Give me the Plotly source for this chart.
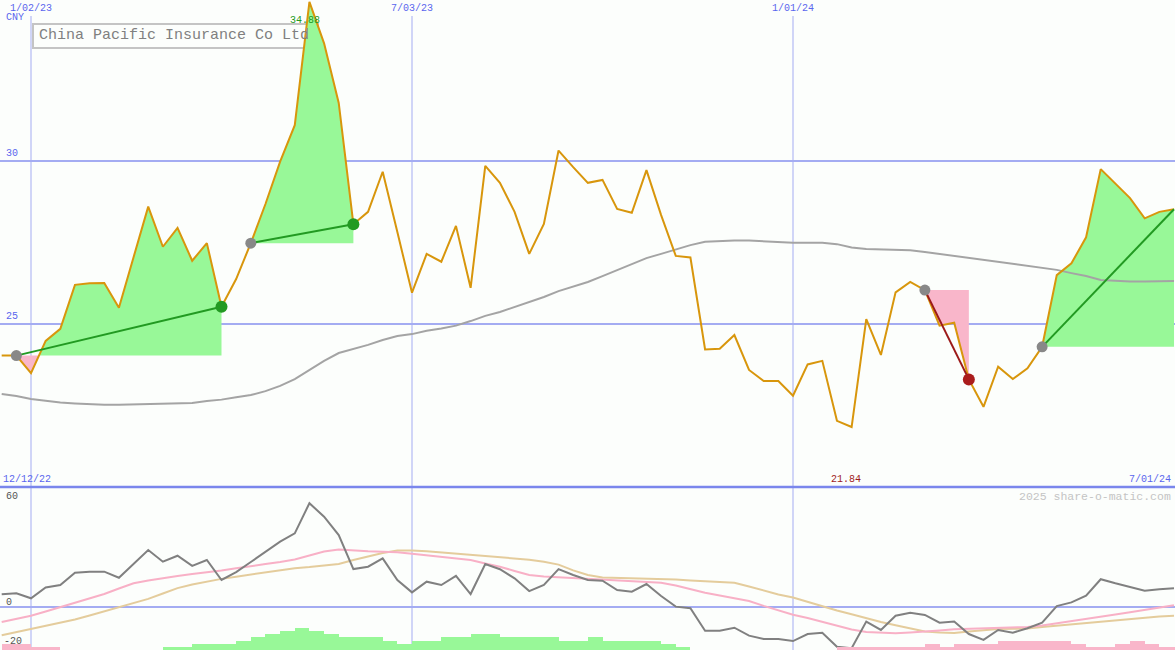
import plotly.graph_objects as go
import pandas as pd

# ---------------- data ----------------
dates = pd.date_range("2022-12-19", periods=81, freq="7D")

price = [24.03, 24.03, 23.49, 24.48, 24.85, 26.20, 26.25, 26.26, 25.50, 27.06,
         28.60, 27.37, 27.95, 26.94, 27.48, 25.53, 26.38, 27.48, 28.68, 29.98,
         31.10, 34.88, 33.61, 31.78, 28.06, 28.44, 29.67, 27.82, 25.96, 27.15,
         26.91, 28.01, 26.11, 29.85, 29.33, 28.44, 27.15, 28.07, 30.32, 29.81,
         29.33, 29.42, 28.53, 28.41, 29.72, 28.34, 27.09, 27.04, 24.22, 24.24,
         24.66, 23.59, 23.25, 23.25, 22.80, 23.76, 23.87, 22.03, 21.84, 25.15,
         24.05, 25.97, 26.29, 26.04, 24.95, 25.04, 23.30, 22.46, 23.69, 23.31,
         23.64, 24.30, 26.50, 26.86, 27.66, 29.75, 29.32, 28.86, 28.24, 28.44,
         28.52]

ma = [22.85, 22.79, 22.70, 22.64, 22.59, 22.56, 22.53, 22.52, 22.52, 22.53,
      22.55, 22.56, 22.58, 22.58, 22.64, 22.68, 22.75, 22.82, 22.94, 23.10,
      23.31, 23.59, 23.87, 24.11, 24.23, 24.36, 24.51, 24.63, 24.69, 24.79,
      24.86, 24.95, 25.09, 25.25, 25.37, 25.52, 25.67, 25.83, 26.01, 26.15,
      26.29, 26.47, 26.66, 26.84, 27.02, 27.15, 27.29, 27.42, 27.52, 27.55,
      27.56, 27.56, 27.53, 27.50, 27.49, 27.49, 27.49, 27.45, 27.35, 27.30,
      27.29, 27.27, 27.26, 27.21, 27.15, 27.09, 27.02, 26.96, 26.90, 26.84,
      26.78, 26.72, 26.66, 26.56, 26.47, 26.35, 26.32, 26.30, 26.30, 26.30,
      26.32]

osc = [6.9, 7.4, 4.7, 10.6, 11.9, 18.5, 19.1, 19.1, 15.8, 23.2,
       30.8, 24.5, 27.7, 22.2, 25.4, 14.6, 18.9, 24.3, 29.7, 35.3,
       39.8, 56.1, 48.8, 38.9, 20.5, 21.8, 26.3, 14.6, 7.9, 13.7,
       11.9, 16.8, 7.0, 23.2, 20.4, 15.5, 8.6, 11.9, 20.5, 17.3,
       14.6, 14.2, 9.2, 8.3, 12.4, 5.9, 0.2, -0.7, -12.8, -12.8,
       -11.2, -15.5, -17.3, -17.3, -18.4, -14.6, -13.9, -21.5, -22.3, -7.9,
       -12.4, -4.7, -3.1, -4.3, -8.5, -7.9, -14.6, -17.8, -12.4, -13.9,
       -11.5, -8.5, 0.5, 2.5, 6.1, 15.0, 12.8, 11.0, 8.8, 9.6,
       10.1]

osc_fast = [-8.1, -6.5, -4.7, -2.4, 0.0, 2.4, 4.9, 7.0, 10.0, 12.8,
            14.3, 15.7, 16.8, 17.8, 18.6, 19.7, 20.9, 22.2, 23.2, 24.3,
            25.7, 27.8, 30.0, 31.1, 30.4, 30.1, 29.8, 29.6, 28.8, 27.9,
            27.2, 26.5, 25.4, 23.5, 21.8, 19.5, 17.3, 16.5, 16.1, 15.7,
            15.1, 14.6, 14.1, 13.7, 13.4, 13.1, 11.6, 9.5, 7.7, 6.2,
            4.6, 3.2, 0.6, -1.6, -4.2, -5.9, -8.1, -10.3, -12.2, -13.5,
            -13.9, -14.2, -13.8, -13.4, -12.7, -12.0, -11.8, -11.6, -11.5, -11.1,
            -10.8, -10.0, -8.9, -7.7, -6.5, -5.2, -4.1, -2.8, -1.6, -0.4,
            1.0]

osc_slow = [-15.3, -13.6, -11.9, -10.3, -8.6, -6.8, -4.6, -2.4, -0.3, 2.1,
            4.4, 7.3, 10.2, 12.2, 13.8, 15.2, 16.4, 17.6, 18.8, 19.9,
            21.0, 21.6, 22.3, 23.2, 25.4, 27.4, 29.2, 30.5, 30.6, 30.1,
            29.5, 28.6, 28.0, 27.6, 27.2, 26.4, 25.6, 24.4, 22.9, 19.8,
            17.3, 16.0, 15.8, 15.5, 15.3, 15.1, 14.8, 14.3, 13.9, 13.6,
            13.1, 11.1, 8.8, 6.8, 5.1, 2.7, 0.4, -1.9, -3.9, -6.1,
            -8.1, -9.9, -11.5, -13.2, -13.8, -14.1, -13.2, -12.5, -11.9, -11.8,
            -11.6, -10.8, -10.1, -9.5, -8.7, -7.9, -7.0, -6.3, -5.7, -5.2,
            -4.7]

hist = [-2, -2, -1, -1, 0, 0, 0, 0, 0, 0,
        0, 1, 1, 2, 2, 2, 3, 4, 5, 6,
        7, 6, 5, 4, 4, 4, 3, 2, 3, 3,
        4, 4, 5, 5, 4, 4, 4, 4, 3, 3,
        4, 3, 3, 3, 3, 2, 1, 0, 0, 0,
        0, 0, 0, 0, 0, 0, 0, -1, -1, -1,
        -1, -1, -1, -2, -1, -2, -2, -2, -3, -3,
        -3, -3, -3, -2, -1, -1, -2, -3, -2, -1,
        -1]

# signals: (start index, end index, direction, closed)
signals = [(1, 15, "up", True), (17, 24, "up", True),
           (63, 66, "down", True), (71, 80, "up", False)]

title = "China Pacific Insurance Co Ltd"
tick_dates = ["2023-01-02", "2023-07-03", "2024-01-01"]
tick_labels = ["1/02/23", "7/03/23", "1/01/24"]

# ---------------- style ----------------
W, H = 1175, 650
BG = "#fcfefc"
GRID = "#a4acf2"
BLUE_TXT = "#5a66ee"
GREEN_FILL = "#98f898"
PINK_FILL = "#f9b6ca"
PRICE_C = "#d8960c"
MONO = "Liberation Mono, DejaVu Sans Mono, monospace"

origin = pd.Timestamp("2023-01-02")
ppd = 762 / 364.0  # pixels per day


def px2date(px):
    return origin + pd.Timedelta(days=(px - 31) / ppd)


def py(px):  # paper y from pixel y
    return (H - px) / H


split = py(487)

fig = go.Figure()

# histogram bars (lower panel, own axis)
fig.add_trace(go.Bar(
    x=dates, y=[abs(v) for v in hist],
    marker=dict(color=[GREEN_FILL if v > 0 else PINK_FILL for v in hist], line=dict(width=0)),
    width=7 * 86400000, offset=0, xaxis="x", yaxis="y3", showlegend=False,
    hoverinfo="skip"))

# oscillator lines
fig.add_trace(go.Scatter(x=dates, y=osc_slow, mode="lines", line=dict(color="#e4cc9c", width=2),
                         xaxis="x", yaxis="y2", showlegend=False))
fig.add_trace(go.Scatter(x=dates, y=osc_fast, mode="lines", line=dict(color="#f8b0c6", width=2),
                         xaxis="x", yaxis="y2", showlegend=False))
fig.add_trace(go.Scatter(x=dates, y=osc, mode="lines", line=dict(color="#808080", width=2),
                         xaxis="x", yaxis="y2", showlegend=False))

# signal fills
for i0, i1, d, closed in signals:
    base = price[i0]
    xs = [dates[i0]]
    ys = [price[i0]]
    for i in range(i0, i1):
        p0, p1 = price[i], price[i + 1]
        if (p0 - base) * (p1 - base) < 0:
            t = (base - p0) / (p1 - p0)
            xs.append(dates[i] + (dates[i + 1] - dates[i]) * t)
            ys.append(base)
        xs.append(dates[i + 1])
        ys.append(price[i + 1])
    for fn, col in ((max, GREEN_FILL), (min, PINK_FILL)):
        fig.add_trace(go.Scatter(x=xs, y=[base] * len(xs), mode="lines",
                                 line=dict(width=0, color="rgba(0,0,0,0)"),
                                 showlegend=False, hoverinfo="skip"))
        fig.add_trace(go.Scatter(x=xs, y=[fn(v, base) for v in ys], mode="lines",
                                 line=dict(width=0, color="rgba(0,0,0,0)"),
                                 fill="tonexty", fillcolor=col,
                                 showlegend=False, hoverinfo="skip"))

# moving average and price
fig.add_trace(go.Scatter(x=dates, y=ma, mode="lines", line=dict(color="#a4a4a4", width=2),
                         showlegend=False))
fig.add_trace(go.Scatter(x=dates, y=price, mode="lines", line=dict(color=PRICE_C, width=2),
                         showlegend=False))

# trend lines and markers
for i0, i1, d, closed in signals:
    lc = "#229a22" if d == "up" else "#9c1a1a"
    fig.add_trace(go.Scatter(x=[dates[i0], dates[i1]], y=[price[i0], price[i1]], mode="lines",
                             line=dict(color=lc, width=2), showlegend=False))
    fig.add_trace(go.Scatter(x=[dates[i0]], y=[price[i0]], mode="markers",
                             marker=dict(color="#888888", size=11), showlegend=False))
    if closed:
        mc = "#229a22" if d == "up" else "#aa1c1c"
        fig.add_trace(go.Scatter(x=[dates[i1]], y=[price[i1]], mode="markers",
                                 marker=dict(color=mc, size=12), showlegend=False))

# ---------------- shapes ----------------
shapes = []
for td in tick_dates:
    shapes.append(dict(type="line", xref="x", yref="paper", x0=td, x1=td, y0=0, y1=py(16),
                       line=dict(color=GRID, width=1), layer="below"))
for lvl in (30, 25):
    shapes.append(dict(type="line", xref="paper", yref="y", x0=0, x1=1, y0=lvl, y1=lvl,
                       line=dict(color=GRID, width=2), layer="below"))
shapes.append(dict(type="line", xref="paper", yref="y2", x0=0, x1=1, y0=0, y1=0,
                   line=dict(color=GRID, width=2), layer="below"))
shapes.append(dict(type="line", xref="paper", yref="paper", x0=0, x1=1, y0=split, y1=split,
                   line=dict(color="#7a86ec", width=2.5), layer="above"))
# title box
shapes.append(dict(type="rect", xref="paper", yref="paper", x0=33 / W, x1=318 / W,
                   y0=py(48), y1=py(24), line=dict(color="#c4c4c4", width=2),
                   fillcolor=BG, layer="between"))

# ---------------- annotations ----------------
ann = []


def txt(text, x, y, xref="paper", yref="paper", color=BLUE_TXT, size=10, xanchor="left",
        yanchor="middle", **kw):
    ann.append(dict(text=text, x=x, y=y, xref=xref, yref=yref, showarrow=False,
                    font=dict(family=MONO, size=size, color=color),
                    xanchor=xanchor, yanchor=yanchor, **kw))


for td, tl in zip(tick_dates, tick_labels):
    txt(tl, td, py(8), xref="x", xanchor="center")
txt("CNY", 4 / W, py(18))
txt("30", 4 / W, 30, yref="y", yanchor="bottom")
txt("25", 4 / W, 25, yref="y", yanchor="bottom")
txt(title, 37 / W, py(36), color="#808080", size=15)
imax = price.index(max(price))
txt(f"{max(price):.2f}", dates[imax], py(20), xref="x", color="#229a22", xanchor="center",
    xshift=-4)
imin = price.index(min(price))
txt(f"{min(price):.2f}", dates[imin], py(479), xref="x", color="#a01c1c", xanchor="center",
    xshift=-6)
txt("12/12/22", 1 / W, py(479))
txt("7/01/24", 1173 / W, py(479), xanchor="right")
txt("2025 share-o-matic.com", 1173 / W, py(496), color="#c4c4c4", size=11.5, xanchor="right")
txt("60", 4 / W, py(496), color="#555555")
txt("0", 4 / W, py(602), color="#555555")
txt("-20", 2 / W, py(641), color="#555555")

fig.update_layout(
    width=W, height=H, margin=dict(l=0, r=0, t=0, b=0),
    paper_bgcolor=BG, plot_bgcolor=BG, showlegend=False, bargap=0,
    xaxis=dict(type="date", range=[px2date(0), px2date(W)], visible=False,
               showgrid=False, zeroline=False, anchor="y2"),
    yaxis=dict(domain=[split, 1], range=[25 - 163 / 32.6, 30 + 161 / 32.6], visible=False,
               showgrid=False, zeroline=False, anchor="x"),
    yaxis2=dict(domain=[0, split], range=[-43 / 1.85, 120 / 1.85], visible=False,
                showgrid=False, zeroline=False, anchor="x"),
    yaxis3=dict(overlaying="y2", range=[0, 163 / 3.15], visible=False, showgrid=False,
                zeroline=False, anchor="x"),
    shapes=shapes, annotations=ann,
)

fig.write_html("out.html", config={"displayModeBar": False},
               post_script="document.body.style.margin='0';document.body.style.overflow='hidden';")
